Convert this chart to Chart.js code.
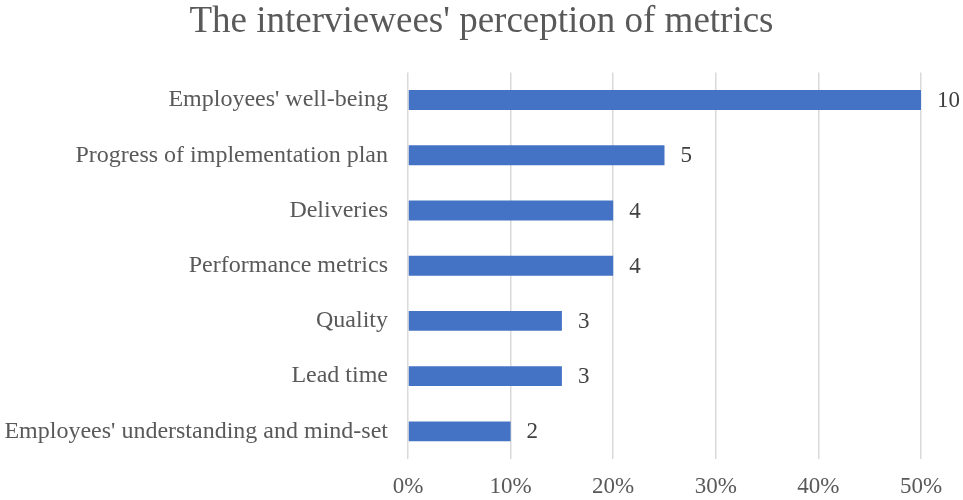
<!DOCTYPE html>
<html>
<head>
<meta charset="utf-8">
<script src="https://cdn.jsdelivr.net/npm/chart.js@4/dist/chart.umd.min.js"></script>
<style>
  html, body { margin: 0; padding: 0; background: #fff; }
  #wrap { width: 963px; height: 500px; }
</style>
</head>
<body>
<div id="wrap"><canvas id="metricsChart"></canvas></div>
<script>
// ============= Data =============
const categories = [
  "Employees' well-being",
  "Progress of implementation plan",
  "Deliveries",
  "Performance metrics",
  "Quality",
  "Lead time",
  "Employees' understanding and mind-set"
];
const counts = [10, 5, 4, 4, 3, 3, 2];
const totalInterviewees = 20;
const shares = counts.map(c => c / totalInterviewees * 100); // percent of interviewees

const serif = "'Liberation Serif', 'Times New Roman', serif";

// ============= Labels plugin =============
const countLabels = {
  id: "countLabels",
  afterDatasetsDraw(chart) {
    const ctx = chart.ctx;
    const meta = chart.getDatasetMeta(0);
    ctx.save();
    ctx.font = "23px " + serif;
    ctx.fillStyle = "#404040";
    ctx.textAlign = "left";
    ctx.textBaseline = "middle";
    meta.data.forEach((bar, i) => {
      ctx.fillText(String(counts[i]), bar.x + 16, bar.y + 1);
    });
    ctx.restore();
  }
};

// ============= Chart =============
new Chart(document.getElementById("metricsChart"), {
  type: "bar",
  data: {
    labels: categories,
    datasets: [{
      data: shares,
      backgroundColor: "#4472C4",
      barPercentage: 0.36,
      categoryPercentage: 1
    }]
  },
  options: {
    indexAxis: "y",
    responsive: true,
    maintainAspectRatio: false,
    animation: false,
    layout: { padding: 0 },
    plugins: {
      legend: { display: false },
      tooltip: { enabled: false },
      title: {
        display: true,
        text: "The interviewees' perception of metrics",
        color: "#595959",
        font: { family: serif, size: 37, weight: "normal" },
        padding: { top: 0, bottom: 28 }
      }
    },
    scales: {
      x: {
        min: 0,
        max: 50,
        ticks: {
          stepSize: 10,
          color: "#595959",
          font: { family: serif, size: 23, lineHeight: 1 },
          padding: 16,
          callback: v => v + "%"
        },
        grid: { color: "#d9d9d9", lineWidth: 1.5, drawTicks: false },
        border: { display: false },
        afterFit(scale) {
          scale.height = 41;
          scale.paddingLeft = 0;
          scale.paddingRight = 42;
        }
      },
      y: {
        ticks: {
          color: "#595959",
          font: { family: serif, size: 24 },
          padding: 20
        },
        grid: { display: false, drawTicks: false },
        border: { display: false },
        afterFit(scale) {
          scale.width = 408;
          scale.paddingTop = 0;
          scale.paddingBottom = 0;
        }
      }
    }
  },
  plugins: [countLabels]
});
</script>
</body>
</html>
